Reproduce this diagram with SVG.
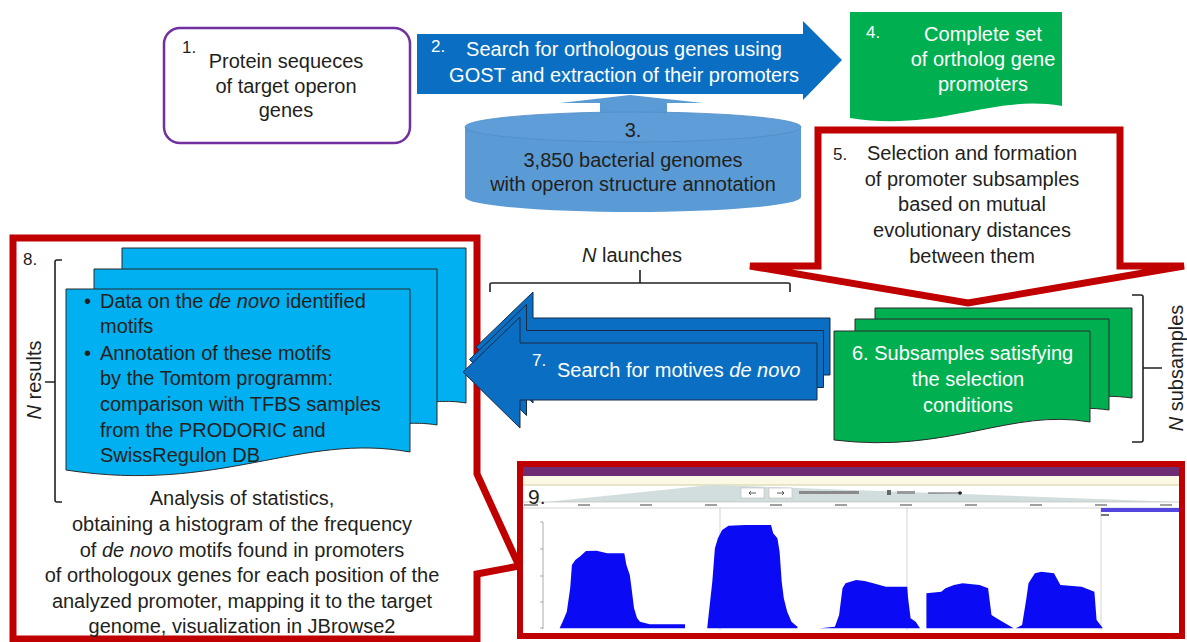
<svg xmlns="http://www.w3.org/2000/svg" width="1187" height="642" viewBox="0 0 1187 642">
<style>
.t{font-family:"Liberation Sans",Arial,sans-serif;font-size:20px;fill:#231F20}
.w{fill:#FFFFFF}
.c{text-anchor:middle}
.n{font-size:17px}
.i{font-style:italic}
.red{fill:none;stroke:#C00000;stroke-width:7;stroke-linejoin:miter}
.blue{fill:#0A6FC2}
.doc{stroke:#2B2B2B;stroke-width:1}
.bdoc{fill:#00B0F0}
.gdoc{fill:#00B050}
.br{fill:none;stroke:#231F20;stroke-width:1.6;stroke-linejoin:round}
.hist{fill:#0A0AF5}
.tick{stroke:#B8B8B8;stroke-width:0.6}
</style>
<rect width="1187" height="642" fill="#FFFFFF"/>

<g id="node8">
  <path class="red" d="M13,238 H477 V474 L519,566 L477,574 V639 H13 Z" fill="#FFFFFF"/>
  <path class="doc bdoc" d="M122,248 H466 V403 C420,395 380,420 122,410 Z"/>
  <path class="doc bdoc" d="M94,269 H437 V425 C390,417 350,440 94,432 Z"/>
  <path class="doc bdoc" d="M66,289 H410 V452 C300,432 220,494 66,470 Z"/>
  <text class="t n" x="23" y="265">8.</text>
  <text class="t" x="84" y="308">•</text>
  <text class="t" x="100" y="308">Data on the <tspan class="i">de novo</tspan> identified</text>
  <text class="t" x="100" y="333">motifs</text>
  <text class="t" x="84" y="360">•</text>
  <text class="t" x="100" y="360">Annotation of these motifs</text>
  <text class="t" x="100" y="385">by the Tomtom programm:</text>
  <text class="t" x="100" y="411">comparison with TFBS samples</text>
  <text class="t" x="100" y="437">from the PRODORIC and</text>
  <text class="t" x="100" y="462">SwissRegulon DB</text>
  <path class="br" d="M62,260 H57 Q55,260 55,262 V500 Q55,502 57,502 H62 M45,382 H55"/>
  <text class="t c" transform="translate(41,380) rotate(-90)"><tspan class="i">N</tspan> results</text>
  <text class="t c" x="242" y="505">Analysis of statistics,</text>
  <text class="t c" x="242" y="531">obtaining a histogram of the frequency</text>
  <text class="t c" x="242" y="557">of <tspan class="i">de novo</tspan> motifs found in promoters</text>
  <text class="t c" x="242" y="582">of orthologoux genes for each position of the</text>
  <text class="t c" x="242" y="608">analyzed promoter, mapping it to the target</text>
  <text class="t c" x="242" y="633">genome, visualization in JBrowse2</text>
</g>

<g id="node1">
  <rect x="164" y="28" width="246" height="115" rx="16" fill="#FFFFFF" stroke="#7030A0" stroke-width="2.5"/>
  <text class="t n" x="182" y="53">1.</text>
  <text class="t c" x="286" y="68">Protein sequeces</text>
  <text class="t c" x="286" y="93">of target operon</text>
  <text class="t c" x="286" y="117">genes</text>
</g>

<g id="node3">
  <path d="M630,95 L703,103 H667 V116 H600 V103 H560 Z" fill="#5B9BD5"/>
  <path d="M465,127 V197 A168,15 0 0 0 801,197 V127 Z" fill="#5B9BD5"/>
  <ellipse cx="633" cy="127" rx="168" ry="15" fill="#5E9DD8" stroke="#4F8CC4" stroke-width="0.8"/>
  <text class="t c" x="633" y="137">3.</text>
  <text class="t c" x="633" y="167">3,850 bacterial genomes</text>
  <text class="t c" x="633" y="191">with operon structure annotation</text>
</g>

<g id="node2">
  <path class="blue" d="M417,34 H803 V21 L842,60 L803,100 V94 H417 Z"/>
  <text class="t w n" x="431" y="52">2.</text>
  <text class="t w c" x="624" y="56">Search for orthologous genes using</text>
  <text class="t w c" x="624" y="82">GOST and extraction of their promoters</text>
</g>

<g id="node4">
  <path class="gdoc" d="M850,12 H1062 V106 C990,94 940,132 850,118 Z"/>
  <text class="t w n" x="866" y="38">4.</text>
  <text class="t w c" x="983" y="41">Complete set</text>
  <text class="t w c" x="983" y="66">of ortholog gene</text>
  <text class="t w c" x="983" y="91">promoters</text>
</g>

<g id="node5">
  <path class="red" d="M818,130 H1120 V266 H1184 L968,303 L750,266 H818 Z" fill="#FFFFFF"/>
  <text class="t n" x="833" y="160">5.</text>
  <text class="t c" x="972" y="160">Selection and formation</text>
  <text class="t c" x="972" y="186">of promoter subsamples</text>
  <text class="t c" x="972" y="211">based on mutual</text>
  <text class="t c" x="972" y="237">evolutionary distances</text>
  <text class="t c" x="972" y="263">between them</text>
</g>

<g id="node6">
  <path class="doc gdoc" d="M875,308 H1132 V398 C1060,388 1000,425 875,416 Z"/>
  <path class="doc gdoc" d="M855,319 H1109 V410 C1040,400 980,437 855,428 Z"/>
  <path class="doc gdoc" d="M834,331 H1090 V422 C1010,408 950,454 834,440 Z"/>
  <text class="t w" x="852" y="360">6. Subsamples satisfying</text>
  <text class="t w c" x="968" y="386">the selection</text>
  <text class="t w c" x="968" y="412">conditions</text>
  <path class="br" d="M1132,295 H1141 Q1143,295 1143,297 V440 Q1143,442 1141,442 H1132 M1143,368 H1162"/>
  <text class="t c" transform="translate(1183,368) rotate(-90)"><tspan class="i">N</tspan> subsamples</text>
</g>

<g id="node7">
  <path class="br" d="M490,292 V284 Q490,283 492,283 H788 Q790,283 790,284 V292 M640,283 V270"/>
  <text class="t c" x="632" y="262"><tspan class="i">N</tspan> launches</text>
  <g stroke="#1B2A44" stroke-width="1" class="blue">
    <path transform="translate(13,-25)" d="M463,372 L520,317 V343 H817 V400 H520 V428 Z"/>
    <path transform="translate(6.5,-12.5)" d="M463,372 L520,317 V343 H817 V400 H520 V428 Z"/>
    <path d="M463,372 L520,317 V343 H817 V400 H520 V428 Z"/>
  </g>
  <text class="t w n" x="532" y="366">7.</text>
  <text class="t w" x="557" y="377">Search for motives <tspan class="i">de novo</tspan></text>
</g>

<g id="node9">
  <rect x="522" y="466" width="659" height="168" fill="#FFFFFF"/>
  <rect x="523" y="467" width="658" height="9" fill="#6E2C72"/>
  <rect x="523" y="476" width="658" height="9" fill="#FBF8E4"/>
  <line x1="523" y1="485" x2="1181" y2="485" stroke="#C9C08A" stroke-width="0.8"/>
  <polygon points="711,485 717,485 1178,502 546,502" fill="#D2DDDD"/>
  <rect x="741" y="488" width="23" height="10" fill="#FFFFFF" stroke="#BBBBBB" stroke-width="0.6"/>
  <rect x="769" y="488" width="23" height="10" fill="#FFFFFF" stroke="#BBBBBB" stroke-width="0.6"/>
  <path d="M756,493 H749 M751,491 L749,493 L751,495 M777,493 H784 M782,491 L784,493 L782,495" stroke="#333" stroke-width="0.8" fill="none"/>
  <rect x="799" y="491" width="60" height="3" fill="#8A8A8A"/>
  <rect x="887" y="490" width="4" height="5" fill="#666"/>
  <rect x="897" y="491" width="18" height="3" fill="#9A9A9A"/>
  <line x1="928" y1="493" x2="962" y2="493" stroke="#333" stroke-width="0.8"/>
  <circle cx="960" cy="493" r="1.8" fill="#222"/>
  <g class="tick">
    <line x1="523" y1="502" x2="1181" y2="502"/>
    <line x1="523" y1="508" x2="1181" y2="508"/>
    <line x1="720" y1="508" x2="720" y2="630"/>
    <line x1="907" y1="508" x2="907" y2="630"/>
    <line x1="1101" y1="508" x2="1101" y2="630"/>
  </g>
  <g fill="#A0A0A0">
    <rect x="524" y="504" width="14" height="2"/>
    <rect x="578" y="504" width="12" height="2"/>
    <rect x="640" y="504" width="12" height="2"/>
    <rect x="705" y="504" width="12" height="2"/>
    <rect x="770" y="504" width="12" height="2"/>
    <rect x="835" y="504" width="12" height="2"/>
    <rect x="900" y="504" width="12" height="2"/>
    <rect x="965" y="504" width="12" height="2"/>
    <rect x="1030" y="504" width="12" height="2"/>
    <rect x="1095" y="504" width="12" height="2"/>
    <rect x="1160" y="504" width="12" height="2"/>
  </g>
  <rect x="1101" y="508" width="83" height="4" fill="#5346E0"/>
  <rect x="1101" y="514" width="8" height="2" fill="#777"/>
  <text class="t" x="528" y="504" style="font-size:21px">9.</text>
  <line x1="543" y1="522" x2="543" y2="629" stroke="#888" stroke-width="0.7"/>
  <path d="M540,522 H543 M540,549 H543 M540,576 H543 M540,602 H543 M540,628 H543" stroke="#888" stroke-width="0.7"/>
  <path class="hist" d="M559.6,628.3 L562.6,621.7 L566.8,611.7 L570.2,588 L571.9,565 L575.3,560 L579.6,556.7 L586,551 L596.6,550.7 L607.2,553.3 L624.3,553.3 L626.4,565 L629.8,575 L631.5,588 L634,608 L637,618 L640,621.7 L649.8,624.3 L685,624.3 L685,628.3 Z"/>
  <path class="hist" d="M707.2,628.3 L709.4,608 L712.3,581.7 L714.9,548.3 L717.9,538.3 L722.1,530 L728.5,525.7 L745.5,525 L771,525 L773.2,533.3 L777.4,538.3 L779.6,551.7 L781.7,581.7 L783.8,598.3 L787.2,611.7 L791.5,621.7 L797.4,626.7 L797.4,628.3 Z"/>
  <path class="hist" d="M820,628.3 L834.9,626.7 L839.1,615 L842.5,588.3 L845.5,583.3 L856.1,580 L864.7,581 L873.2,583.3 L885.9,586.7 L907.2,586.7 L908.1,598.3 L910.6,618.3 L915.7,621.7 L920,628.3 Z"/>
  <path class="hist" d="M926.4,628.3 L926.4,593.3 L941.3,591.7 L945.5,588.3 L954,585 L962.6,583.3 L979.6,585 L988.1,588.3 L991.5,615 L996.6,618.3 L1005.1,623.3 L1013.6,628.3 Z"/>
  <path class="hist" d="M1015.7,628.3 L1022.1,625 L1026.4,598.3 L1028.5,583.3 L1034.9,573.3 L1041.3,571.7 L1054,573.3 L1060.4,585 L1081.7,586.7 L1094.4,591.7 L1096.6,620 L1102.9,628.3 Z"/>
  <rect x="520" y="464" width="662" height="172" fill="none" stroke="#C00000" stroke-width="6"/>
</g>
</svg>
